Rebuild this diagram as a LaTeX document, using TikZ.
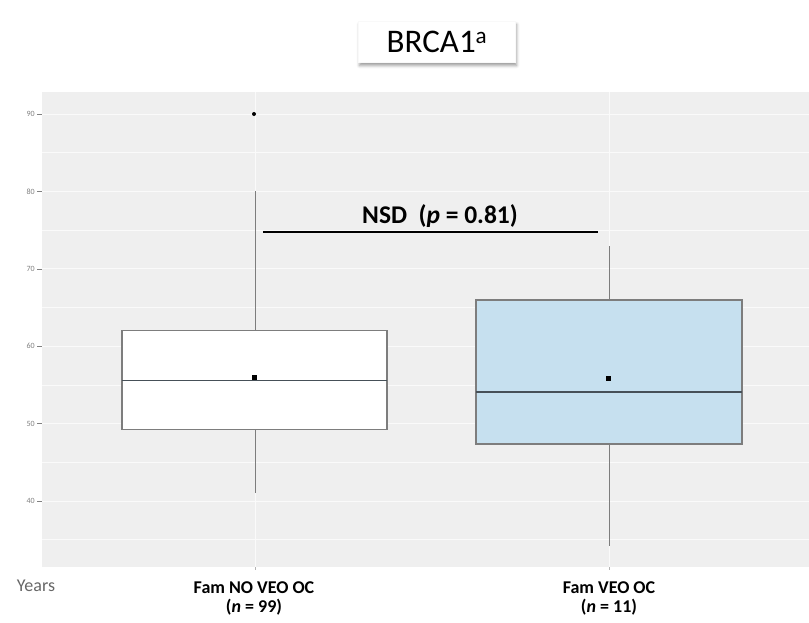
\documentclass[tikz,border=0pt]{standalone}
\usepackage{fontspec}
\setmainfont{Carlito}
\usetikzlibrary{shadows.blur}
\definecolor{panelgray}{RGB}{239,239,239}
\definecolor{boxblue}{RGB}{198,224,239}
\definecolor{boxline}{RGB}{125,125,125}
\definecolor{medline}{RGB}{70,80,88}
\definecolor{ticktext}{RGB}{128,128,128}

\begin{document}
\begin{tikzpicture}[x=1pt,y=-1pt,
  majorgrid/.style={white!70!panelgray,line width=0.9pt},
  minorgrid/.style={white!70!panelgray,line width=0.5pt},
  whisker/.style={boxline,line width=1pt},
  boxframe/.style={boxline,line width=1.2pt},
  median/.style={medline,line width=1.6pt},
  ytick/.style={ticktext,font=\fontsize{8}{9}\selectfont,anchor=east,inner sep=1pt},
  xlab/.style={anchor=base,inner sep=0pt,font=\fontsize{18}{20}\selectfont\bfseries}]
\useasboundingbox (0,0) rectangle (809,622);
\fill[panelgray] (42,92) rectangle (809,567);
% grid
\draw[minorgrid] (42,152.7) -- (809,152.7);
\draw[minorgrid] (42,230.1) -- (809,230.1);
\draw[minorgrid] (42,307.5) -- (809,307.5);
\draw[minorgrid] (42,384.9) -- (809,384.9);
\draw[minorgrid] (42,462.3) -- (809,462.3);
\draw[minorgrid] (42,539.7) -- (809,539.7);
\draw[majorgrid] (42,114) -- (809,114);
\draw[majorgrid] (42,191.4) -- (809,191.4);
\draw[majorgrid] (42,268.8) -- (809,268.8);
\draw[majorgrid] (42,346.2) -- (809,346.2);
\draw[majorgrid] (42,423.6) -- (809,423.6);
\draw[majorgrid] (42,501) -- (809,501);
\draw[minorgrid] (255,92) -- (255,567);
\draw[minorgrid] (609,92) -- (609,567);
% y axis
\draw[ticktext] (37,114) -- (42,114) node[ytick] (y90) at (36,114) {90};
\draw[ticktext] (37,191.4) -- (42,191.4) node[ytick] (y80) at (36,191.4) {80};
\draw[ticktext] (37,268.8) -- (42,268.8) node[ytick] (y70) at (36,268.8) {70};
\draw[ticktext] (37,346.2) -- (42,346.2) node[ytick] (y60) at (36,346.2) {60};
\draw[ticktext] (37,423.6) -- (42,423.6) node[ytick] (y50) at (36,423.6) {50};
\draw[ticktext] (37,501) -- (42,501) node[ytick] (y40) at (36,501) {40};
\draw[ticktext!60] (255,567) -- (255,570);
\draw[ticktext!60] (609,567) -- (609,570);
% box 1
\draw[whisker] (255,191.4) -- (255,330.7);
\draw[whisker] (255,429.8) -- (255,493.3);
\filldraw[boxframe,fill=white] (122,330.7) rectangle (387,429.8);
\draw[median] (122,380.3) -- (387,380.3);
\fill[black] (252,375) rectangle (257,380);
\fill[black] (254,114) circle (2pt);
% box 2
\draw[whisker] (609,246) -- (609,300);
\draw[whisker] (609,444) -- (609,546);
\filldraw[boxframe,fill=boxblue] (476,300) rectangle (742,444);
\draw[median] (476,392) -- (742,392);
\fill[black] (606,375.5) rectangle (611,380.5);
% test
\draw[black,line width=2pt] (263,232) -- (598,232);
\node[anchor=base,inner sep=0pt,font=\fontsize{25.5}{27}\selectfont\bfseries] (nsd) at (440,223) {NSD~ (\textit{p} = 0.81)};
% labels
\node[xlab] (grp1) at (254,593) {Fam NO VEO OC};
\node[xlab] (n1) at (254,612) {(\textit{n} = 99)};
\node[xlab] (grp2) at (609,593) {Fam VEO OC};
\node[xlab] (n2) at (609,612) {(\textit{n} = 11)};
\node[ticktext!80!black,font=\fontsize{18}{20}\selectfont] (years) at (36,586) {Years};
\node[fill=white,draw=gray!5,minimum width=157pt,minimum height=41pt,
  blur shadow={shadow xshift=1pt,shadow yshift=-3pt,shadow blur radius=3pt,shadow opacity=40},
  font=\fontsize{33}{36}\selectfont] (title) at (437,42) {BRCA1\textsuperscript{a}};
\end{tikzpicture}
\end{document}
